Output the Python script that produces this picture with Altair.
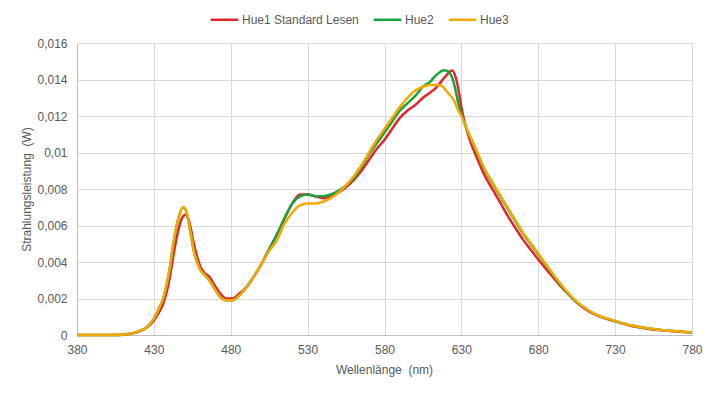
import altair as alt
import pandas as pd

wavelengths = [380, 390, 400, 405, 410, 415, 420, 425, 430, 433, 436, 440, 443, 446, 449, 451, 453, 456,
               460, 463, 466, 469, 473, 477, 481, 486, 490, 495, 500, 505, 510, 515, 520, 525, 530, 535,
               540, 545, 550, 555, 560, 565, 570, 575, 580, 585, 590, 595, 600, 605, 610, 613, 616, 618,
               620, 622, 624, 626, 628, 630, 632, 635, 640, 645, 650, 655, 660, 665, 670, 675, 680, 685,
               690, 695, 700, 705, 710, 715, 720, 725, 730, 740, 750, 760, 770, 780]

hue1 = [0, 0, 0, 0, 0.00002, 0.00007, 0.00018, 0.00038, 0.0008, 0.0012, 0.0017, 0.0030, 0.0045, 0.0058,
        0.0065, 0.0066, 0.0062, 0.0050, 0.0038, 0.0034, 0.0032, 0.0028, 0.0023, 0.0020, 0.0020, 0.0023,
        0.0026, 0.0032, 0.0039, 0.0047, 0.0055, 0.0064, 0.0072, 0.0077, 0.0077, 0.0076, 0.0075, 0.0076,
        0.0078, 0.0081, 0.0085, 0.0090, 0.0096, 0.0102, 0.0107, 0.0113, 0.0119, 0.0123, 0.0126, 0.0130,
        0.0133, 0.0135, 0.0138, 0.0140, 0.0142, 0.0144, 0.0145, 0.0142, 0.0135, 0.0125, 0.0117, 0.0108,
        0.00972, 0.00876, 0.00802, 0.00729, 0.00655, 0.00588, 0.00524, 0.00468, 0.00414, 0.00362,
        0.00312, 0.00264, 0.0022, 0.00178, 0.00146, 0.0012, 0.00101, 0.00087, 0.00075, 0.00051, 0.00036,
        0.00026, 0.00019, 0.00013]

hue2 = [0, 0, 0, 0, 0.00002, 0.00008, 0.0002, 0.0004, 0.0009, 0.0014, 0.0020, 0.0035, 0.0052, 0.0064,
        0.0070, 0.0068, 0.0060, 0.0046, 0.0036, 0.0033, 0.0030, 0.0026, 0.0021, 0.0019, 0.0019, 0.0022,
        0.0026, 0.0032, 0.0039, 0.0047, 0.0055, 0.0064, 0.0072, 0.0076, 0.0077, 0.0076, 0.0076, 0.0077,
        0.0079, 0.0082, 0.0086, 0.0092, 0.0099, 0.0105, 0.0111, 0.0117, 0.0123, 0.0127, 0.0131, 0.0136,
        0.0139, 0.0142, 0.0144, 0.0145, 0.0145, 0.0144, 0.0141, 0.0135, 0.0127, 0.0121, 0.0116, 0.0110,
        0.01003, 0.00907, 0.00834, 0.00763, 0.00694, 0.00626, 0.00557, 0.00499, 0.00441, 0.00383,
        0.00325, 0.00271, 0.00221, 0.0018, 0.00149, 0.00123, 0.00103, 0.00089, 0.00076, 0.00053, 0.00038,
        0.00027, 0.0002, 0.00014]

hue3 = [0, 0, 0, 0, 0.00002, 0.00008, 0.0002, 0.0004, 0.0009, 0.0014, 0.0020, 0.0035, 0.0052, 0.0064,
        0.0070, 0.0068, 0.0060, 0.0046, 0.0036, 0.0033, 0.0030, 0.0026, 0.0021, 0.0019, 0.0019, 0.0022,
        0.0026, 0.0032, 0.0039, 0.0046, 0.0052, 0.0061, 0.0067, 0.0071, 0.0072, 0.0072, 0.0073, 0.0075,
        0.0078, 0.0082, 0.0087, 0.0093, 0.0100, 0.0107, 0.0113, 0.0119, 0.0125, 0.0130, 0.0134, 0.0136,
        0.0137, 0.0137, 0.0137, 0.0136, 0.0134, 0.0132, 0.0130, 0.0127, 0.0123, 0.0120, 0.0116, 0.0110,
        0.01008, 0.00912, 0.00839, 0.00768, 0.00699, 0.00631, 0.00562, 0.00504, 0.00446, 0.00388,
        0.0033, 0.00275, 0.00225, 0.00183, 0.00151, 0.00124, 0.00104, 0.0009, 0.00077, 0.00053, 0.00038,
        0.00027, 0.0002, 0.00014]

series_names = ["Hue1 Standard Lesen", "Hue2", "Hue3"]
series_colors = ["#E3262B", "#1BA33B", "#F4A900"]
x_ticks = [380, 430, 480, 530, 580, 630, 680, 730, 780]
y_ticks = [0, 0.002, 0.004, 0.006, 0.008, 0.01, 0.012, 0.014, 0.016]

rows = []
for name, vals in zip(series_names, [hue1, hue2, hue3]):
    for w, v in zip(wavelengths, vals):
        rows.append({"wl": w, "val": v, "series": name})
df = pd.DataFrame(rows)

TXT = "#595959"
FONT = "Liberation Sans"

x_enc = alt.X("wl:Q",
              scale=alt.Scale(domain=[380, 780], nice=False, zero=False),
              axis=alt.Axis(values=x_ticks, title="Wellenlänge\u00a0 (nm)", grid=True,
                            gridColor="#D9D9D9", domainColor="#BFBFBF", ticks=False,
                            labelFlush=False,
                            labelPadding=9, labelFontSize=12, labelColor=TXT, labelFont=FONT,
                            titleFontSize=12, titleColor=TXT, titleFont=FONT, titleFontWeight="normal",
                            titleX=307, titleY=34, titleBaseline="middle", titleAlign="center"))
y_enc = alt.Y("val:Q",
              scale=alt.Scale(domain=[0, 0.016], nice=False),
              axis=alt.Axis(values=y_ticks, title="Strahlungsleistung\u00a0 (W)", grid=True,
                            gridColor="#D9D9D9", domainColor="#BFBFBF", ticks=False,
                            labelExpr="replace(toString(datum.value), '.', ',')",
                            labelPadding=10, labelFontSize=12, labelColor=TXT, labelFont=FONT,
                            titleFontSize=12, titleColor=TXT, titleFont=FONT, titleFontWeight="normal",
                            titleX=-51, titleY=146, titleAngle=-90, titleBaseline="middle",
                            titleAlign="center"))
color_enc = alt.Color("series:N",
                      scale=alt.Scale(domain=series_names, range=series_colors),
                      legend=alt.Legend(title=None, orient="none", direction="horizontal",
                                        legendX=132, legendY=-39, symbolType="stroke",
                                        symbolSize=760, symbolStrokeWidth=2.5, labelOffset=2,
                                        columnPadding=9, labelFontSize=12, labelColor=TXT,
                                        labelFont=FONT))

layers = []
for name in series_names:
    layers.append(
        alt.Chart(df).transform_filter(alt.datum.series == name)
        .mark_line(strokeWidth=2.5, interpolate="monotone")
        .encode(x=x_enc, y=y_enc, color=color_enc)
    )

chart = alt.layer(*layers).properties(
    width=615, height=292,
    autosize=alt.AutoSizeParams(type="none"),
    padding={"left": 69, "top": 35, "right": 17, "bottom": 51},
    background="white",
).configure_view(strokeWidth=0)

chart.save("out.html", embed_options={"renderer": "svg", "actions": False})
